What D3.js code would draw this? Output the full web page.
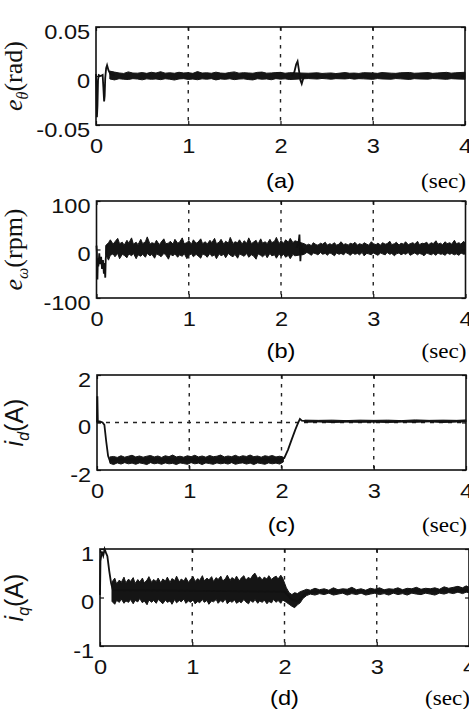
<!DOCTYPE html>
<html>
<head>
<meta charset="utf-8">
<script src="https://cdn.jsdelivr.net/npm/d3@7"></script>
<style>
  body { margin: 0; background: #fff; }
  svg { display: block; }
  .tick text { font-family: "Liberation Sans", Arial, sans-serif; font-size: 20px; fill: #111; }
</style>
</head>
<body>
<div id="chart"></div>
<script>
// x axis (seconds), shared by all four panels
const timeTicks = [0, 1, 2, 3, 4];

// (a) position error e_theta (rad)
const aTicks = [-0.05, 0, 0.05];
const aTrace = [[0, 0.002], [0.004, -0.012], [0.01, -0.042], [0.016, -0.03], [0.022, -0.004], [0.03, 0.001],
  [0.05, 0.0], [0.072, 0.001], [0.08, -0.012], [0.088, -0.026], [0.094, -0.02], [0.1, -0.002], [0.11, 0.008],
  [0.12, 0.011], [0.135, 0.006], [0.155, 0.002], [0.2, 0.001]];
const aBump = [[2.12, 0.0], [2.15, 0.004], [2.17, 0.012], [2.185, 0.015], [2.2, 0.006], [2.215, -0.004],
  [2.23, -0.008], [2.245, -0.003], [2.27, 0.0]];
const aBand = [[0.15, -0.003, 0.005], [0.2, -0.004, 0.004], [0.25, -0.0028, 0.0031], [0.3, -0.0033, 0.0026],
  [0.35, -0.0036, 0.0042], [0.4, -0.0027, 0.003], [0.45, -0.0031, 0.0029], [0.5, -0.0039, 0.0035],
  [0.55, -0.0029, 0.0027], [0.6, -0.0034, 0.0038], [0.65, -0.003, 0.003], [0.7, -0.0037, 0.0044],
  [0.75, -0.0028, 0.0029], [0.8, -0.0033, 0.0033], [0.85, -0.0041, 0.0028], [0.9, -0.003, 0.0038],
  [0.95, -0.0027, 0.0031], [1.0, -0.0035, 0.0034], [1.05, -0.0031, 0.0027], [1.1, -0.0038, 0.0045],
  [1.15, -0.0029, 0.003], [1.2, -0.0033, 0.0033], [1.25, -0.0027, 0.0028], [1.3, -0.004, 0.0039],
  [1.35, -0.003, 0.003], [1.4, -0.0034, 0.0027], [1.45, -0.0028, 0.0036], [1.5, -0.0037, 0.0042],
  [1.55, -0.0031, 0.0029], [1.6, -0.0029, 0.0034], [1.65, -0.0036, 0.0031], [1.7, -0.004, 0.0028],
  [1.75, -0.0028, 0.0037], [1.8, -0.0033, 0.004], [1.85, -0.003, 0.0029], [1.9, -0.0038, 0.0031],
  [1.95, -0.0027, 0.0035], [2.0, -0.0032, 0.0037], [2.05, -0.0029, 0.0028], [2.1, -0.0036, 0.0034],
  [2.3, -0.0026, 0.0028], [2.4, -0.0031, 0.0033], [2.45, -0.0025, 0.0026], [2.5, -0.0029, 0.0029],
  [2.55, -0.0033, 0.0031], [2.6, -0.0027, 0.0025], [2.7, -0.003, 0.0035], [2.75, -0.0025, 0.0028],
  [2.8, -0.0032, 0.003], [2.85, -0.0027, 0.0026], [2.9, -0.0029, 0.0034], [3.0, -0.0034, 0.0031],
  [3.05, -0.0026, 0.0027], [3.1, -0.003, 0.0035], [3.2, -0.0033, 0.0029], [3.25, -0.0026, 0.0027],
  [3.3, -0.0029, 0.0033], [3.4, -0.0035, 0.0036], [3.45, -0.0027, 0.0028], [3.5, -0.003, 0.003],
  [3.6, -0.0032, 0.0035], [3.65, -0.0026, 0.0027], [3.7, -0.0028, 0.0031], [3.8, -0.0034, 0.0037],
  [3.85, -0.0027, 0.0029], [3.9, -0.003, 0.0033], [4.0, -0.0033, 0.0038]];

// (b) speed error e_omega (rpm)
const bTicks = [-100, 0, 100];
const bTrace = [[0, 8], [0.004, -5], [0.01, -62], [0.015, -18], [0.02, -35], [0.03, -8], [0.04, -30],
  [0.05, -15], [0.06, -40], [0.07, -22], [0.08, -50], [0.085, -28], [0.095, -58], [0.1, -20], [0.11, 4], [0.12, 10]];
const bSpike = [[2.17, 4], [2.19, 12], [2.2, 31], [2.21, -24], [2.22, 9], [2.235, -6], [2.25, 2]];
const bBand = [[0.1, -10, 8], [0.13, -22, 14], [0.15, -12, 20], [0.18, -9, 11], [0.2, -15, 16], [0.23, -8, 23],
  [0.25, -19, 12], [0.28, -10, 15], [0.3, -12, 9], [0.33, -17, 19], [0.35, -9, 13], [0.38, -13, 24],
  [0.4, -8, 11], [0.43, -19, 15], [0.45, -11, 10], [0.48, -14, 21], [0.5, -10, 12], [0.53, -16, 16],
  [0.55, -8, 26], [0.58, -13, 11], [0.6, -10, 14], [0.63, -18, 12], [0.65, -9, 19], [0.68, -12, 10],
  [0.7, -15, 15], [0.73, -8, 22], [0.75, -11, 12], [0.78, -20, 13], [0.8, -10, 17], [0.83, -13, 11],
  [0.85, -9, 21], [0.88, -16, 13], [0.9, -11, 15], [0.93, -14, 24], [0.95, -8, 12], [0.98, -19, 14],
  [1.0, -12, 18], [1.03, -9, 11], [1.05, -15, 20], [1.08, -10, 13], [1.1, -13, 15], [1.13, -18, 22],
  [1.15, -9, 12], [1.18, -12, 16], [1.2, -16, 11], [1.23, -8, 19], [1.25, -14, 14], [1.28, -11, 23],
  [1.3, -19, 12], [1.33, -9, 15], [1.35, -13, 21], [1.38, -10, 11], [1.4, -17, 17], [1.43, -8, 13],
  [1.45, -12, 25], [1.48, -15, 12], [1.5, -10, 16], [1.53, -18, 14], [1.55, -9, 20], [1.58, -12, 11],
  [1.6, -14, 18], [1.63, -8, 13], [1.65, -16, 24], [1.68, -11, 12], [1.7, -13, 15], [1.73, -20, 19],
  [1.75, -9, 11], [1.78, -12, 22], [1.8, -15, 13], [1.83, -10, 16], [1.85, -17, 12], [1.88, -8, 21],
  [1.9, -13, 14], [1.93, -11, 17], [1.95, -18, 25], [1.98, -9, 12], [2.0, -14, 18], [2.03, -10, 13],
  [2.05, -16, 20], [2.08, -12, 15], [2.1, -19, 23], [2.13, -10, 14], [2.15, -13, 18],
  [2.25, -10, 12], [2.28, -6, 9], [2.3, -8, 11], [2.33, -12, 8], [2.35, -7, 14], [2.38, -9, 10],
  [2.4, -11, 9], [2.43, -6, 13], [2.45, -10, 11], [2.48, -8, 15], [2.5, -12, 9], [2.53, -7, 12],
  [2.55, -9, 10], [2.58, -13, 14], [2.6, -7, 9], [2.63, -10, 11], [2.65, -8, 16], [2.68, -11, 10],
  [2.7, -6, 12], [2.73, -9, 9], [2.75, -12, 13], [2.78, -7, 11], [2.8, -10, 15], [2.83, -8, 9],
  [2.85, -11, 12], [2.88, -6, 10], [2.9, -13, 14], [2.93, -8, 11], [2.95, -9, 9], [2.98, -11, 16],
  [3.0, -7, 12], [3.03, -10, 10], [3.05, -12, 13], [3.08, -7, 9], [3.1, -9, 14], [3.13, -11, 11],
  [3.15, -6, 12], [3.18, -10, 17], [3.2, -8, 10], [3.23, -13, 12], [3.25, -9, 15], [3.28, -7, 9],
  [3.3, -11, 13], [3.33, -8, 11], [3.35, -10, 16], [3.38, -6, 10], [3.4, -12, 12], [3.43, -9, 14],
  [3.45, -7, 11], [3.48, -11, 17], [3.5, -8, 10], [3.53, -10, 13], [3.55, -13, 12], [3.58, -7, 15],
  [3.6, -9, 10], [3.63, -11, 14], [3.65, -8, 12], [3.68, -12, 18], [3.7, -7, 11], [3.73, -10, 13],
  [3.75, -9, 10], [3.78, -12, 16], [3.8, -7, 12], [3.83, -10, 14], [3.85, -8, 11], [3.88, -11, 19],
  [3.9, -9, 12], [3.93, -12, 14], [3.95, -7, 11], [3.98, -10, 17], [4.0, -9, 12]];

// (c) d-axis current i_d (A)
const cTicks = [-2, 0, 2];
const cTrace = [[0, 0.0], [0.004, 1.1], [0.009, 0.05], [0.03, 0.05], [0.06, 0.0], [0.08, -0.1], [0.1, -0.8],
  [0.12, -1.4], [0.14, -1.62], [0.16, -1.55], [2.0, -1.55], [2.03, -1.5], [2.07, -1.15], [2.11, -0.72],
  [2.15, -0.3], [2.18, -0.02], [2.2, 0.15], [2.22, 0.08], [2.3, 0.05], [3.0, 0.05], [4.0, 0.06]];
const cBand = [[0.14, -1.72, -1.45], [0.18, -1.77, -1.43], [0.22, -1.7, -1.47], [0.26, -1.75, -1.4],
  [0.3, -1.69, -1.46], [0.34, -1.74, -1.42], [0.38, -1.71, -1.38], [0.42, -1.76, -1.45], [0.46, -1.7, -1.41],
  [0.5, -1.73, -1.46], [0.54, -1.77, -1.42], [0.58, -1.69, -1.39], [0.62, -1.74, -1.45], [0.66, -1.71, -1.41],
  [0.7, -1.76, -1.47], [0.74, -1.7, -1.4], [0.78, -1.74, -1.44], [0.82, -1.72, -1.37], [0.86, -1.77, -1.45],
  [0.9, -1.7, -1.42], [0.94, -1.73, -1.46], [0.98, -1.76, -1.4], [1.02, -1.69, -1.44], [1.06, -1.74, -1.38],
  [1.1, -1.71, -1.45], [1.14, -1.77, -1.41], [1.18, -1.7, -1.46], [1.22, -1.73, -1.39], [1.26, -1.76, -1.44],
  [1.3, -1.7, -1.42], [1.34, -1.74, -1.37], [1.38, -1.71, -1.45], [1.42, -1.75, -1.41], [1.46, -1.69, -1.44],
  [1.5, -1.76, -1.38], [1.54, -1.72, -1.45], [1.58, -1.7, -1.4], [1.62, -1.75, -1.43], [1.66, -1.71, -1.37],
  [1.7, -1.77, -1.44], [1.74, -1.7, -1.41], [1.78, -1.73, -1.46], [1.82, -1.76, -1.4], [1.86, -1.7, -1.43],
  [1.9, -1.74, -1.39], [1.94, -1.71, -1.45], [1.98, -1.75, -1.42], [2.02, -1.66, -1.46]];
const cFlat = [[2.25, 0.01, 0.1], [2.4, 0.03, 0.09], [2.55, 0.0, 0.1], [2.7, 0.02, 0.08], [2.85, 0.01, 0.1],
  [3.0, 0.02, 0.09], [3.15, 0.0, 0.1], [3.3, 0.02, 0.08], [3.45, 0.01, 0.11], [3.6, 0.03, 0.09],
  [3.75, 0.0, 0.1], [3.9, 0.02, 0.09], [4.0, 0.02, 0.11]];

// (d) q-axis current i_q (A)
const dTicks = [-1, 0, 1];
const dTrace = [[0, 0.05], [0.005, 0.75], [0.02, 0.95], [0.035, 0.86], [0.05, 1.0], [0.065, 0.92],
  [0.08, 0.85], [0.1, 0.55], [0.12, 0.3], [0.14, 0.15], [2.0, 0.12], [2.08, -0.05], [2.15, -0.08],
  [2.22, 0.08], [2.3, 0.12], [4.0, 0.15]];
const dBand = [[0.13, -0.08, 0.32], [0.16, -0.14, 0.4], [0.18, -0.06, 0.28], [0.21, -0.1, 0.36],
  [0.23, -0.03, 0.31], [0.26, -0.12, 0.42], [0.28, -0.07, 0.3], [0.31, -0.1, 0.38], [0.33, -0.04, 0.33],
  [0.36, -0.13, 0.41], [0.38, -0.06, 0.29], [0.41, -0.09, 0.37], [0.43, -0.02, 0.32], [0.46, -0.11, 0.4],
  [0.48, -0.07, 0.3], [0.51, -0.15, 0.36], [0.53, -0.05, 0.43], [0.56, -0.1, 0.31], [0.58, -0.06, 0.37],
  [0.61, -0.12, 0.33], [0.63, -0.04, 0.4], [0.66, -0.09, 0.3], [0.68, -0.13, 0.38], [0.71, -0.05, 0.34],
  [0.73, -0.1, 0.42], [0.76, -0.07, 0.31], [0.78, -0.14, 0.39], [0.81, -0.04, 0.35], [0.83, -0.11, 0.44],
  [0.86, -0.06, 0.32], [0.88, -0.09, 0.38], [0.91, -0.03, 0.34], [0.93, -0.12, 0.41], [0.96, -0.07, 0.31],
  [0.98, -0.1, 0.37], [1.01, -0.05, 0.43], [1.03, -0.13, 0.33], [1.06, -0.08, 0.39], [1.08, -0.11, 0.35],
  [1.11, -0.04, 0.45], [1.13, -0.1, 0.34], [1.16, -0.06, 0.4], [1.18, -0.14, 0.36], [1.21, -0.07, 0.43],
  [1.23, -0.09, 0.33], [1.26, -0.04, 0.41], [1.28, -0.12, 0.37], [1.31, -0.06, 0.44], [1.33, -0.1, 0.34],
  [1.36, -0.03, 0.39], [1.38, -0.13, 0.46], [1.41, -0.07, 0.35], [1.43, -0.1, 0.41], [1.46, -0.05, 0.37],
  [1.48, -0.12, 0.44], [1.51, -0.08, 0.34], [1.53, -0.11, 0.4], [1.56, -0.04, 0.45], [1.58, -0.09, 0.36],
  [1.61, -0.13, 0.42], [1.63, -0.06, 0.38], [1.66, -0.1, 0.47], [1.68, -0.04, 0.5], [1.71, -0.12, 0.39],
  [1.73, -0.07, 0.43], [1.76, -0.1, 0.36], [1.78, -0.05, 0.42], [1.81, -0.13, 0.38], [1.83, -0.08, 0.45],
  [1.86, -0.11, 0.37], [1.88, -0.04, 0.41], [1.91, -0.1, 0.44], [1.93, -0.06, 0.38], [1.96, -0.12, 0.46],
  [1.98, -0.05, 0.4], [2.02, -0.1, 0.2], [2.05, -0.14, 0.1], [2.08, -0.18, 0.06], [2.11, -0.21, 0.1],
  [2.14, -0.15, 0.08], [2.17, -0.11, 0.12], [2.2, -0.02, 0.14], [2.24, 0.04, 0.17], [2.28, 0.07, 0.15],
  [2.33, 0.05, 0.19], [2.38, 0.08, 0.16], [2.43, 0.06, 0.18], [2.48, 0.09, 0.15], [2.53, 0.05, 0.2],
  [2.58, 0.07, 0.16], [2.63, 0.09, 0.18], [2.68, 0.05, 0.17], [2.73, 0.08, 0.21], [2.78, 0.06, 0.16],
  [2.83, 0.09, 0.18], [2.88, 0.05, 0.15], [2.93, 0.07, 0.19], [2.98, 0.09, 0.17], [3.03, 0.06, 0.2],
  [3.08, 0.08, 0.16], [3.13, 0.05, 0.18], [3.18, 0.09, 0.17], [3.23, 0.06, 0.2], [3.28, 0.08, 0.16],
  [3.33, 0.05, 0.19], [3.38, 0.09, 0.18], [3.43, 0.07, 0.21], [3.48, 0.06, 0.17], [3.53, 0.09, 0.19],
  [3.58, 0.07, 0.18], [3.63, 0.05, 0.2], [3.68, 0.09, 0.17], [3.73, 0.07, 0.22], [3.78, 0.1, 0.19],
  [3.83, 0.08, 0.21], [3.88, 0.11, 0.23], [3.93, 0.08, 0.2], [3.97, 0.11, 0.24], [4.0, 0.1, 0.21]];

const W = 469, H = 709;
const sansX = 1.18; // the scanned figure is a bit stretched sideways
const svg = d3.select("#chart").append("svg").attr("width", W).attr("height", H);

// MATLAB style labels use a plain hyphen for negatives
const hyphen = f => d => f(d).replace("\u2212", "-");

// one entry per subplot; positions are layout only
const panels = [
  {left: 96, top: 27, h: 98, tagDy: 63, domain: [-0.05, 0.05], ticks: aTicks,
   fmt: hyphen(d => d === 0 ? "0" : d3.format(".2f")(d)),
   lines: [aTrace, aBump], bands: [aBand], zeroGrid: false, tag: "(a)",
   label: {serif: true, sym: "e", sub: "\u03b8", unit: "(rad)"}},
  {left: 96.5, top: 201, h: 97, tagDy: 60, domain: [-100, 100], ticks: bTicks, fmt: hyphen(d3.format("d")),
   lines: [bTrace, bSpike], bands: [bBand], zeroGrid: false, tag: "(b)",
   label: {serif: true, sym: "e", sub: "\u03c9", unit: "(rpm)"}},
  {left: 97, top: 375, h: 95, tagDy: 62, domain: [-2, 2], ticks: cTicks, fmt: hyphen(d3.format("d")),
   lines: [cTrace], bands: [cBand, cFlat], zeroGrid: true, tag: "(c)",
   label: {serif: false, sym: "i", sub: "d", unit: "(A)"}},
  {left: 100, top: 549, h: 97, tagDy: 59, domain: [-1, 1], ticks: dTicks, fmt: hyphen(d3.format("d")),
   lines: [dTrace], bands: [dBand], zeroGrid: false, tag: "(d)",
   label: {serif: false, sym: "i", sub: "q", unit: "(A)"}}
];

panels.forEach(drawPanel);

function drawPanel(p) {
  const width = 369;
  const g = svg.append("g").attr("transform", `translate(${p.left}, ${p.top})`);

  const x = d3.scaleLinear().domain([0, 4]).range([0, width]);
  const y = d3.scaleLinear().domain(p.domain).range([p.h, 0]);

  // dashed grid
  g.selectAll(".vgrid")
    .data(timeTicks.slice(1, -1))
    .enter()
    .append("line")
    .attr("x1", d => x(d)).attr("x2", d => x(d))
    .attr("y1", 0).attr("y2", p.h)
    .attr("stroke", "#222").attr("stroke-width", 1.4)
    .attr("stroke-dasharray", "3.5,5.5");
  if (p.zeroGrid) {
    g.append("line")
      .attr("x1", 0).attr("x2", width)
      .attr("y1", y(0)).attr("y2", y(0))
      .attr("stroke", "#222").attr("stroke-width", 1.4)
      .attr("stroke-dasharray", "4,5");
  }

  // noisy parts as jagged envelopes
  const area = d3.area().x(d => x(d[0])).y0(d => y(d[1])).y1(d => y(d[2]));
  p.bands.forEach(b => {
    g.append("path").attr("d", area(b))
      .attr("fill", "#151515").attr("stroke", "#151515").attr("stroke-width", 1);
  });

  const line = d3.line().x(d => x(d[0])).y(d => y(d[1]));
  p.lines.forEach(l => {
    g.append("path").attr("d", line(l))
      .attr("fill", "none").attr("stroke", "#111").attr("stroke-width", 1.8);
  });

  // axes with inward ticks
  g.append("g").attr("transform", `translate(0, ${p.h})`)
    .call(d3.axisBottom(x).tickValues(timeTicks).tickFormat(d3.format("d"))
      .tickSizeInner(-4).tickSizeOuter(0).tickPadding(14))
    .selectAll("text").attr("transform", `scale(${sansX},1)`);
  const yAxis = g.append("g")
    .call(d3.axisLeft(y).tickValues(p.ticks).tickFormat(p.fmt)
      .tickSizeInner(-4).tickSizeOuter(0).tickPadding(5));
  yAxis.selectAll("text").attr("dy", "0.55em").attr("transform", `scale(${sansX},1)`);
  g.append("g").call(d3.axisTop(x).tickValues(timeTicks).tickFormat("").tickSizeInner(-4).tickSizeOuter(0));
  g.append("g").attr("transform", `translate(${width}, 0)`)
    .call(d3.axisRight(y).tickValues(p.ticks).tickFormat("").tickSizeInner(-4).tickSizeOuter(0));
  g.selectAll(".domain").remove();
  g.selectAll(".tick line").attr("stroke", "#111").attr("stroke-width", 1.2);

  // frame
  g.append("rect")
    .attr("x", 0).attr("y", 0).attr("width", width).attr("height", p.h)
    .attr("fill", "none").attr("stroke", "#111").attr("stroke-width", 1.6);

  // panel tag and unit
  g.append("text")
    .attr("transform", `translate(${x(2)}, ${p.h + p.tagDy}) scale(${sansX},1)`)
    .attr("text-anchor", "middle")
    .style("font-family", "Liberation Sans, Arial, sans-serif").style("font-size", "20px")
    .text(p.tag);
  g.append("text")
    .attr("transform", `translate(${x(4) - 44}, ${p.h + p.tagDy}) scale(1.05,1)`)
    .style("font-family", "Liberation Serif, Times New Roman, serif").style("font-size", "22px")
    .text("(sec)");

  // y label
  const fam = p.label.serif ? "Liberation Serif, Times New Roman, serif" : "Liberation Sans, Arial, sans-serif";
  const lab = svg.append("text")
    .attr("transform", `translate(${p.label.serif ? 22 : 23}, ${p.top + p.h / 2}) rotate(-90)`)
    .attr("text-anchor", "middle")
    .style("font-family", fam).style("font-size", p.label.serif ? "26px" : "25px")
    .attr("fill", "#111");
  lab.append("tspan").style("font-style", "italic").text(p.label.sym);
  lab.append("tspan").attr("dy", 6).style("font-style", "italic").style("font-size", "16px").text(p.label.sub);
  lab.append("tspan").attr("dy", -6).text(p.label.unit);
}
</script>
</body>
</html>
